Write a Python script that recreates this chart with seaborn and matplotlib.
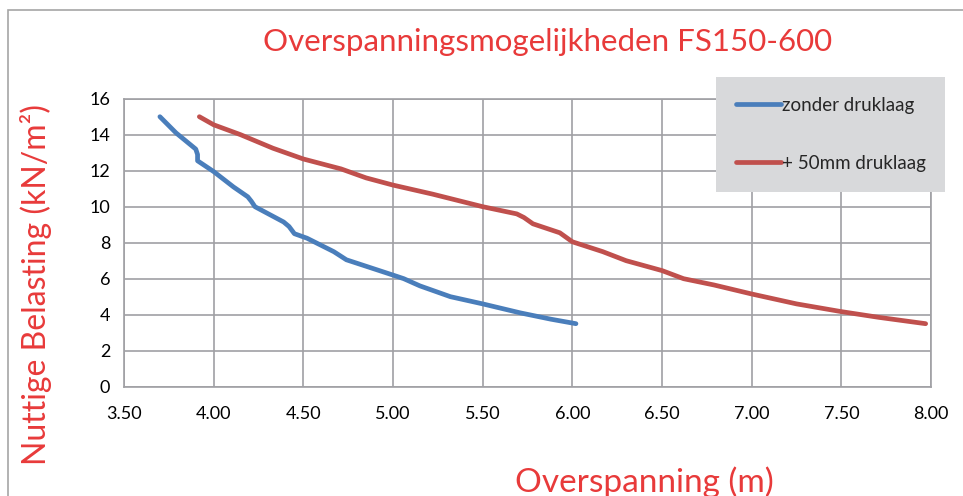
import matplotlib
matplotlib.use('Agg')
import matplotlib.pyplot as plt
import seaborn as sns
import pandas as pd
from matplotlib.patches import Rectangle

span_zonder = [3.70, 3.79, 3.90, 3.91, 3.91, 4.00, 4.11, 4.19, 4.21, 4.23, 4.39, 4.42,
               4.45, 4.52, 4.67, 4.74, 5.00, 5.06, 5.15, 5.32, 5.50, 5.71, 5.88, 6.02]
load_zonder = [15.0, 14.1, 13.2, 12.9, 12.55, 11.95, 11.1, 10.55, 10.3, 10.0, 9.15, 8.9,
               8.5, 8.25, 7.5, 7.05, 6.2, 6.0, 5.6, 5.0, 4.6, 4.1, 3.75, 3.5]

span_druk = [3.92, 4.00, 4.15, 4.33, 4.50, 4.71, 4.85, 5.00, 5.22, 5.50, 5.69, 5.73,
             5.78, 5.93, 6.00, 6.17, 6.30, 6.50, 6.62, 6.79, 7.00, 7.25, 7.50, 7.71, 7.97]
load_druk = [15.0, 14.55, 14.0, 13.25, 12.65, 12.1, 11.6, 11.2, 10.7, 10.0, 9.6, 9.4,
             9.05, 8.55, 8.05, 7.5, 7.0, 6.45, 6.0, 5.65, 5.15, 4.6, 4.17, 3.85, 3.5]

labels = ['zonder druklaag', '+ 50mm druklaag']
x_ticks = [3.5, 4.0, 4.5, 5.0, 5.5, 6.0, 6.5, 7.0, 7.5, 8.0]
y_ticks = [0, 2, 4, 6, 8, 10, 12, 14, 16]

df = pd.concat([
    pd.DataFrame({'span': span_zonder, 'load': load_zonder, 'serie': labels[0]}),
    pd.DataFrame({'span': span_druk, 'load': load_druk, 'serie': labels[1]}),
], ignore_index=True)

sns.set_style('white')
plt.rcParams['font.family'] = ['Lato', 'DejaVu Sans']

red = '#E83A3A'
fig = plt.figure(figsize=(9.63, 4.96), dpi=100)
ax = fig.add_axes([0.1288, 0.2204, 0.9668 - 0.1288, 0.801 - 0.2204])

sns.lineplot(data=df, x='span', y='load', hue='serie', sort=False, estimator=None,
             palette=['#4A7EBB', '#C0504D'], linewidth=3.4, ax=ax, legend=True)

ax.set_xlim(3.5, 8.0)
ax.set_ylim(0, 16)
ax.set_xticks(x_ticks)
ax.set_xticklabels([f'{v:.2f}' for v in x_ticks])
ax.set_yticks(y_ticks)
ax.grid(True, color='#A0A0A4', linewidth=1.2)
for s in ax.spines.values():
    s.set_color('#A0A0A4')
    s.set_linewidth(1.2)
ax.tick_params(length=0, labelsize=13, colors='black', pad=14)
ax.tick_params(axis='y', pad=10)
ax.set_xlabel('')
ax.set_ylabel('')

leg = ax.legend(handles=ax.get_legend().legend_handles, labels=labels,
                loc='upper left', bbox_to_anchor=(716 / 963, 1 - 77 / 496),
                bbox_transform=fig.transFigure, fontsize=13.5, frameon=True, fancybox=False,
                facecolor='#D8D9DB', edgecolor='none', framealpha=1,
                labelspacing=2.2, handlelength=2.4, handletextpad=0.05,
                borderpad=1.05, borderaxespad=0)
for h in leg.legend_handles:
    h.set_linewidth(3.4)

fig.text(0.569, 0.915, 'Overspanningsmogelijkheden FS150-600', ha='center', va='center',
         fontsize=22.5, color=red)
fig.text(0.037, 0.427, 'Nuttige Belasting (kN/m²)', ha='center', va='center', rotation=90,
         fontsize=23, color=red)
fig.text(0.669, 0.028, 'Overspanning (m)', ha='center', va='center',
         fontsize=24, color=red)

fig.patches.append(Rectangle((8 / 963, -0.1), 1.2, 1.1 - 10 / 496, transform=fig.transFigure,
                             fill=False, edgecolor='#A6A6A6', linewidth=1.2))

fig.savefig('out.png', dpi=100)
